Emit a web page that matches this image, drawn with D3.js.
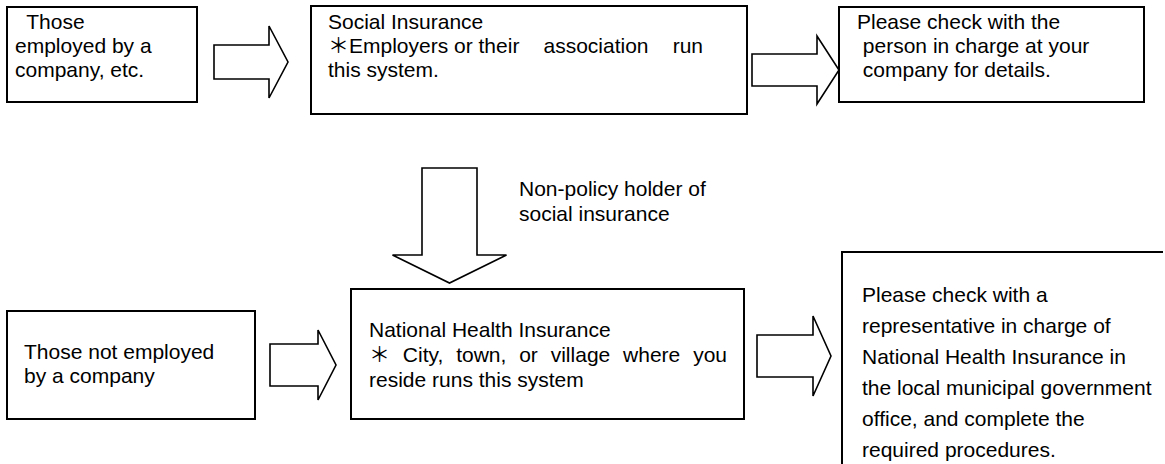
<!doctype html>
<html>
<head>
<meta charset="UTF-8">
<title>Health insurance flow</title>
<script src="https://d3js.org/d3.v7.min.js"></script>
<style>
  body { margin: 0; background: #fff; }
  text { font-family: "Liberation Sans", Arial, "Noto Sans CJK JP", sans-serif; font-size: 21px; fill: #000; white-space: pre; }
</style>
</head>
<body>
<script>
// texts of the flow chart ("|" = words spread over the full line)
var employedLines = ["  Those", "employed by a", "company, etc."];
var socialLines = ["Social Insurance", "＊Employers or their|association|run", "this system."];
var companyLines = ["Please check with the", " person in charge at your", " company for details."];
var labelLines = ["Non-policy holder of", "social insurance"];
var notEmployedLines = ["Those not employed", "by a company"];
var nhiLines = ["National Health Insurance", "＊|City,|town,|or|village|where|you", "reside runs this system"];
var officeLines = ["Please check with a", "representative in charge of", "National Health Insurance in",
                   "the local municipal government", "office, and complete the", "required procedures."];

var w = 1165, h = 464;
var svg = d3.select("body").append("svg").attr("width", w).attr("height", h);
svg.append("rect").attr("width", w).attr("height", h).attr("fill", "#fff");

var line = d3.line();

function box(x0, y0, x1, y1) {
  svg.append("rect")
    .attr("x", x0).attr("y", y0)
    .attr("width", x1 - x0).attr("height", y1 - y0)
    .attr("fill", "none").attr("stroke", "#000").attr("stroke-width", 2);
}

function textBlock(lines, x, y, dy, right) {
  var g = svg.append("g");
  lines.forEach(function (l, i) {
    var by = y + i * dy;
    if (l.indexOf("|") < 0) {
      g.append("text").attr("x", x).attr("y", by).text(l);
      return;
    }
    // justified line
    var parts = l.split("|");
    var nodes = parts.map(function (p) {
      return g.append("text").attr("y", by).text(p);
    });
    var widths = nodes.map(function (n) { return n.node().getComputedTextLength(); });
    var gap = (right - x - d3.sum(widths)) / (parts.length - 1);
    var cx = x;
    nodes.forEach(function (n, k) {
      n.attr("x", cx);
      cx += widths[k] + gap;
    });
  });
}

function rightArrow(x0, xb, xt, cy, sh, hh) {
  var pts = [[x0, cy - sh], [xb, cy - sh], [xb, cy - hh], [xt, cy], [xb, cy + hh], [xb, cy + sh], [x0, cy + sh]];
  svg.append("path").attr("d", line(pts) + "Z")
    .attr("fill", "#fff").attr("stroke", "#000").attr("stroke-width", 1.6)
    .attr("stroke-linejoin", "miter");
}

function downArrow(cx, y0, yb, yt, sw, hw) {
  var pts = [[cx - sw, y0], [cx + sw, y0], [cx + sw, yb], [cx + hw, yb], [cx, yt], [cx - hw, yb], [cx - sw, yb]];
  svg.append("path").attr("d", line(pts) + "Z")
    .attr("fill", "#fff").attr("stroke", "#000").attr("stroke-width", 1.6)
    .attr("stroke-linejoin", "miter");
}

// top row
box(7, 7, 197, 102);
textBlock(employedLines, 15, 29, 24);
rightArrow(214, 269, 288, 62, 17, 36);

box(311, 6, 747, 114);
textBlock(socialLines, 328, 29, 24, 703);
rightArrow(752, 817, 839, 70, 16, 34);

box(839, 7, 1144, 102);
textBlock(companyLines, 857, 29, 24);

// down arrow + label
downArrow(449.5, 168, 255, 283, 27.5, 57);
textBlock(labelLines, 519, 196, 25);

// bottom row
box(7, 311, 255, 419);
textBlock(notEmployedLines, 24, 359, 24);
rightArrow(270, 318, 336, 365, 21, 35);

box(351, 289, 744, 419);
textBlock(nhiLines, 369, 337, 25, 727);
rightArrow(757, 813, 831, 356, 21, 40);

// last box runs off the picture
svg.append("path")
  .attr("d", line([[842, h + 5], [842, 252], [1163, 252]]))
  .attr("fill", "none").attr("stroke", "#000").attr("stroke-width", 2);
textBlock(officeLines, 862, 302, 31);
</script>
</body>
</html>
